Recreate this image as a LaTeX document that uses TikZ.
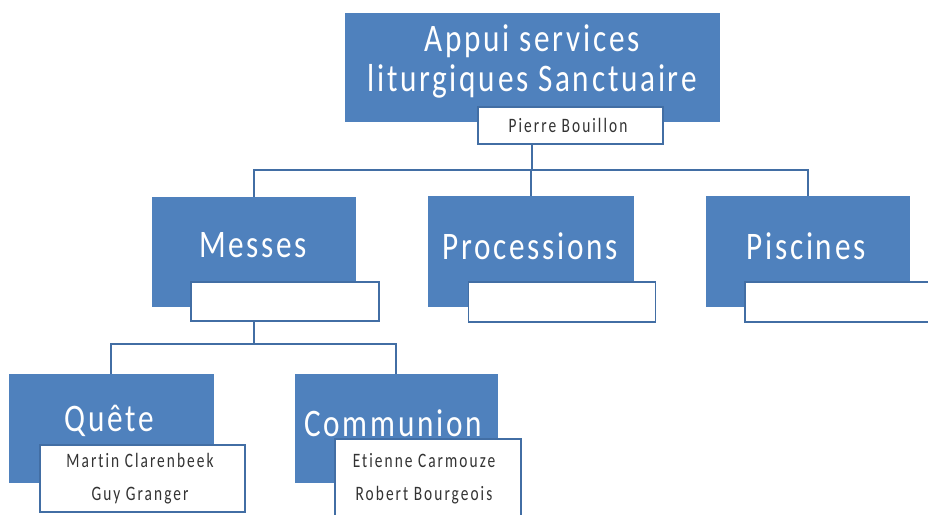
\documentclass[tikz,border=0pt]{standalone}
\usepackage{fontspec}
\setmainfont{Carlito}
\newfontfamily\bigfont[LetterSpace=7,FakeStretch=0.8,Ligatures=NoCommon]{Carlito}
\newfontfamily\smallfont[LetterSpace=10,FakeStretch=0.75,Ligatures=NoCommon]{Carlito}
\definecolor{boxblue}{RGB}{79,129,189}
\definecolor{lineblue}{RGB}{66,110,164}

\tikzset{
  bluebox/.style={rectangle, fill=boxblue, draw=boxblue, inner sep=0pt},
  namebox/.style={rectangle, fill=white, draw=lineblue, line width=1.5pt, inner sep=0pt},
  title/.style={text=white, font=\bigfont\fontsize{39}{40}\selectfont, align=center, inner sep=0pt},
  names/.style={text=black!80, font=\smallfont\fontsize{20.5}{33}\selectfont, align=center, inner sep=0pt},
  conn/.style={draw=lineblue, line width=2pt}
}

\begin{document}
\begin{tikzpicture}[x=1pt,y=-1pt]

	\useasboundingbox (0,0) rectangle (928,514);
	\clip (0,0) rectangle (928,514);

	% top level
	\node (top) [bluebox, minimum width=374pt, minimum height=108pt] at (532,67) {};
	\node (top-t) [title] at (532,61) {Appui services\\liturgiques Sanctuaire};
	\node (pierre) [namebox, minimum width=185pt, minimum height=37pt] at (570.5,125.5) {};
	\node (pierre-t) [names] at (568,125.5) {Pierre Bouillon};

	% second level
	\node (messes) [bluebox, minimum width=203pt, minimum height=109pt] at (253.5,251.5) {};
	\node (messes-t) [title] at (253,245) {Messes};
	\node (messes-n) [namebox, minimum width=188pt, minimum height=39pt] at (285,301.5) {};

	\node (proc) [bluebox, minimum width=205pt, minimum height=110pt] at (531,251) {};
	\node (proc-t) [title] at (530,246) {Processions};
	\node (proc-n) [namebox, minimum width=187pt, minimum height=40pt] at (562,302) {};

	\node (pisc) [bluebox, minimum width=203pt, minimum height=110pt] at (807.5,251) {};
	\node (pisc-t) [title] at (806,246) {Piscines};
	\node (pisc-n) [namebox, minimum width=187pt, minimum height=40pt] at (838.5,302) {};

	% third level
	\node (quete) [bluebox, minimum width=204pt, minimum height=108pt] at (111,428) {};
	\node (quete-t) [title] at (109,421) {Quête};
	\node (quete-n) [namebox, minimum width=205pt, minimum height=67pt] at (142.5,478.5) {};
	\node (quete-nt) [names] at (140,478.5) {Martin Clarenbeek\\Guy Granger};

	\node (comm) [bluebox, minimum width=202pt, minimum height=108pt] at (396,428) {};
	\node (comm-t) [title] at (393,423) {Communion};
	\node (comm-n) [namebox, minimum width=186pt, minimum height=79pt] at (428,478.5) {};
	\node (comm-nt) [names] at (424,478.5) {Etienne Carmouze\\Robert Bourgeois};

	% connectors
	\coordinate (hub) at (532,170);
	\coordinate (mhub) at (253.5,344);

	\draw[conn] (top.center |- pierre.south) -- (hub);
	\draw[conn] (hub) -| (messes.north);
	\draw[conn] (hub) -| (proc.north);
	\draw[conn] (hub) -| (pisc.north);

	\draw[conn] (messes.center |- messes-n.south) -- (mhub);
	\draw[conn] (mhub) -| (quete.north);
	\draw[conn] (mhub) -| (comm.north);

\end{tikzpicture}
\end{document}
